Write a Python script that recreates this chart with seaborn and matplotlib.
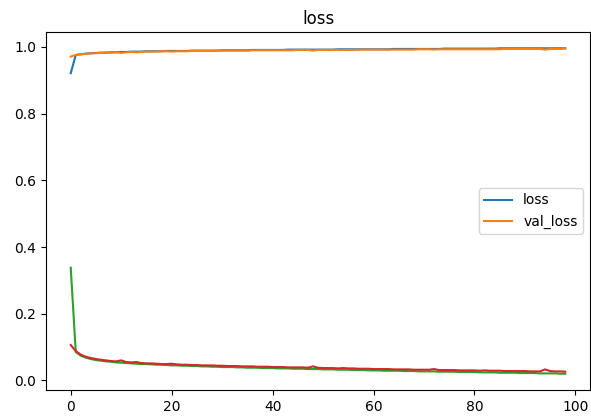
import matplotlib
matplotlib.use("Agg")
import matplotlib.pyplot as plt
import seaborn as sns
import numpy as np

epochs = list(range(99))

acc = [0.921, 0.976, 0.978, 0.980, 0.981, 0.982, 0.983, 0.983, 0.984, 0.984, 0.985,
       0.985, 0.986, 0.986, 0.986, 0.987, 0.987, 0.987, 0.987, 0.988, 0.988,
       0.988, 0.988, 0.988, 0.989, 0.989, 0.989, 0.989, 0.989, 0.989, 0.990,
       0.990, 0.990, 0.990, 0.990, 0.990, 0.991, 0.991, 0.991, 0.991, 0.991,
       0.991, 0.991, 0.992, 0.992, 0.992, 0.992, 0.992, 0.992, 0.992, 0.992,
       0.992, 0.992, 0.993, 0.993, 0.993, 0.993, 0.993, 0.993, 0.993, 0.993,
       0.993, 0.993, 0.993, 0.994, 0.994, 0.994, 0.994, 0.994, 0.994, 0.994,
       0.994, 0.994, 0.994, 0.995, 0.995, 0.995, 0.995, 0.995, 0.995, 0.995,
       0.995, 0.995, 0.995, 0.995, 0.996, 0.996, 0.996, 0.996, 0.996, 0.996,
       0.996, 0.996, 0.996, 0.996, 0.996, 0.996, 0.996, 0.996]

val_acc = [0.971, 0.976, 0.978, 0.979, 0.981, 0.981, 0.982, 0.983, 0.983, 0.984, 0.982,
           0.984, 0.985, 0.984, 0.985, 0.986, 0.986, 0.986, 0.987, 0.987, 0.986,
           0.987, 0.987, 0.987, 0.988, 0.988, 0.988, 0.988, 0.988, 0.989, 0.989,
           0.989, 0.989, 0.989, 0.989, 0.989, 0.990, 0.990, 0.990, 0.990, 0.990,
           0.990, 0.990, 0.990, 0.990, 0.991, 0.991, 0.991, 0.989, 0.991, 0.991,
           0.991, 0.991, 0.991, 0.991, 0.991, 0.991, 0.992, 0.992, 0.992, 0.992,
           0.992, 0.992, 0.992, 0.992, 0.992, 0.992, 0.992, 0.992, 0.993, 0.993,
           0.993, 0.992, 0.993, 0.993, 0.993, 0.993, 0.993, 0.993, 0.993, 0.993,
           0.993, 0.993, 0.993, 0.993, 0.993, 0.994, 0.994, 0.994, 0.994, 0.994,
           0.994, 0.994, 0.994, 0.992, 0.994, 0.994, 0.994, 0.995]

loss = [0.338, 0.085, 0.074, 0.068, 0.064, 0.061, 0.059, 0.057, 0.056, 0.054, 0.053,
        0.052, 0.051, 0.050, 0.049, 0.049, 0.048, 0.047, 0.047, 0.046, 0.045,
        0.045, 0.044, 0.044, 0.043, 0.043, 0.042, 0.042, 0.041, 0.041, 0.040,
        0.040, 0.040, 0.039, 0.039, 0.038, 0.038, 0.038, 0.037, 0.037, 0.037,
        0.036, 0.036, 0.036, 0.035, 0.035, 0.035, 0.034, 0.034, 0.034, 0.033,
        0.033, 0.033, 0.032, 0.032, 0.032, 0.031, 0.031, 0.031, 0.030, 0.030,
        0.030, 0.029, 0.029, 0.029, 0.029, 0.028, 0.028, 0.028, 0.027, 0.027,
        0.027, 0.027, 0.026, 0.026, 0.026, 0.026, 0.025, 0.025, 0.025, 0.025,
        0.024, 0.024, 0.024, 0.024, 0.023, 0.023, 0.023, 0.023, 0.022, 0.022,
        0.022, 0.022, 0.021, 0.021, 0.021, 0.021, 0.020, 0.020]

val_loss = [0.106, 0.088, 0.077, 0.071, 0.067, 0.064, 0.062, 0.060, 0.058, 0.057, 0.060,
            0.055, 0.054, 0.055, 0.052, 0.051, 0.051, 0.050, 0.049, 0.049, 0.050,
            0.048, 0.047, 0.047, 0.046, 0.046, 0.045, 0.045, 0.045, 0.044, 0.044,
            0.043, 0.043, 0.043, 0.042, 0.042, 0.042, 0.041, 0.041, 0.041, 0.040,
            0.040, 0.040, 0.039, 0.039, 0.039, 0.039, 0.038, 0.042, 0.038, 0.037,
            0.037, 0.037, 0.036, 0.037, 0.036, 0.036, 0.035, 0.035, 0.035, 0.034,
            0.034, 0.034, 0.034, 0.033, 0.033, 0.033, 0.033, 0.032, 0.032, 0.032,
            0.032, 0.034, 0.031, 0.031, 0.031, 0.031, 0.030, 0.030, 0.030, 0.030,
            0.029, 0.030, 0.029, 0.029, 0.029, 0.028, 0.028, 0.028, 0.028, 0.028,
            0.027, 0.027, 0.027, 0.033, 0.028, 0.027, 0.027, 0.026]

legend_labels = ["loss", "val_loss"]
title = "loss"

plt.rcParams.update(plt.rcParamsDefault)
plt.rcParams["font.family"] = ["DejaVu Sans"]

fig = plt.figure(figsize=(5.91, 4.18), dpi=100)
ax = fig.add_axes([46 / 591, 1 - 390 / 418, (590 - 46) / 591, (390 - 32) / 418])

colors = sns.color_palette("tab10")
for series, c in zip([acc, val_acc, loss, val_loss], colors[:4]):
    sns.lineplot(x=epochs, y=series, ax=ax, color=c, legend=False, linewidth=1.5)

ax.set_xticks([0, 20, 40, 60, 80, 100])
ax.set_yticks([0.0, 0.2, 0.4, 0.6, 0.8, 1.0])
ax.set_title(title, fontsize=12)
ax.legend(handles=ax.lines[:2], labels=legend_labels, loc="center right")

fig.savefig("out.png", dpi=100)
